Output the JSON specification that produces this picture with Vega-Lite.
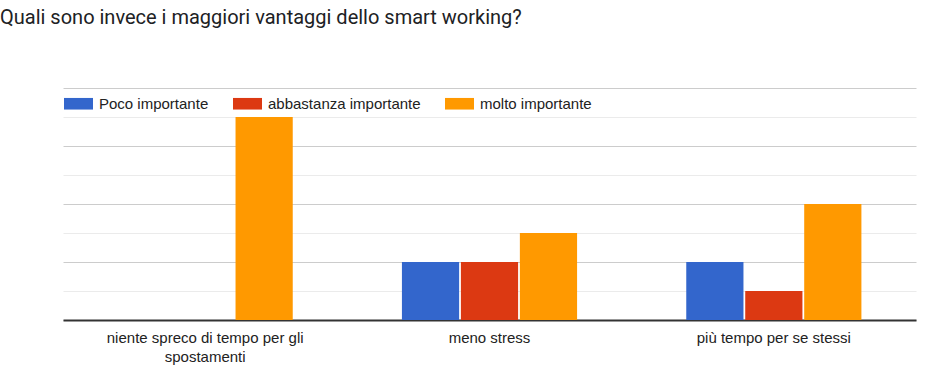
{
  "$schema": "https://vega.github.io/schema/vega-lite/v6.json",
  "autosize": "none",
  "width": 853,
  "height": 232,
  "padding": {"left": 63, "top": 88, "right": 18, "bottom": 68},
  "background": "white",
  "title": {
    "text": "Quali sono invece i maggiori vantaggi dello smart working?",
    "anchor": "start",
    "frame": "group",
    "dx": -63,
    "offset": 44,
    "baseline": "alphabetic",
    "font": "Roboto",
    "fontSize": 20,
    "fontWeight": "normal",
    "color": "#202124"
  },
  "data": {
    "values": [
      {"categoria": "niente spreco di tempo per gli spostamenti", "livello": "Poco importante", "conteggio": 0},
      {"categoria": "niente spreco di tempo per gli spostamenti", "livello": "abbastanza importante", "conteggio": 0},
      {"categoria": "niente spreco di tempo per gli spostamenti", "livello": "molto importante", "conteggio": 7},
      {"categoria": "meno stress", "livello": "Poco importante", "conteggio": 2},
      {"categoria": "meno stress", "livello": "abbastanza importante", "conteggio": 2},
      {"categoria": "meno stress", "livello": "molto importante", "conteggio": 3},
      {"categoria": "più tempo per se stessi", "livello": "Poco importante", "conteggio": 2},
      {"categoria": "più tempo per se stessi", "livello": "abbastanza importante", "conteggio": 1},
      {"categoria": "più tempo per se stessi", "livello": "molto importante", "conteggio": 4}
    ]
  },
  "mark": {"type": "bar"},
  "encoding": {
    "x": {
      "field": "categoria",
      "type": "nominal",
      "sort": null,
      "scale": {"paddingInner": 0.384, "paddingOuter": 0.192},
      "axis": {
        "title": null,
        "labelAngle": 0,
        "labelFont": "Liberation Sans",
        "labelFontSize": 15,
        "labelColor": "#222222",
        "labelPadding": 10,
        "labelLineHeight": 19,
        "labelLimit": 300,
        "ticks": false,
        "domainColor": "#333333",
        "domainWidth": 2,
        "labelExpr": "datum.value == 'niente spreco di tempo per gli spostamenti' ? ['niente spreco di tempo per gli', 'spostamenti'] : datum.value"
      }
    },
    "xOffset": {
      "field": "livello",
      "type": "nominal",
      "sort": ["Poco importante", "abbastanza importante", "molto importante"],
      "scale": {"paddingInner": 0.03}
    },
    "y": {
      "field": "conteggio",
      "type": "quantitative",
      "scale": {"domain": [0, 8], "nice": false},
      "axis": {
        "title": null,
        "labels": false,
        "ticks": false,
        "domain": false,
        "values": [0, 1, 2, 3, 4, 5, 6, 7, 8],
        "gridColor": {"condition": {"test": "datum.value % 2 == 1", "value": "#ebebeb"}, "value": "#cccccc"},
        "gridWidth": 1
      }
    },
    "color": {
      "field": "livello",
      "type": "nominal",
      "sort": ["Poco importante", "abbastanza importante", "molto importante"],
      "scale": {
        "domain": ["Poco importante", "abbastanza importante", "molto importante"],
        "range": ["#3366cc", "#dc3912", "#ff9900"]
      },
      "legend": {
        "title": null,
        "orient": "none",
        "legendX": 1,
        "legendY": 1,
        "direction": "horizontal",
        "symbolType": "M-1,-0.4H1V0.4H-1Z",
        "symbolSize": 841,
        "symbolStrokeWidth": 0,
        "symbolOpacity": 1,
        "labelFont": "Liberation Sans",
        "labelFontSize": 15,
        "labelColor": "#222222",
        "labelOffset": 6,
        "columnPadding": 24,
        "labelLimit": 300
      }
    }
  },
  "config": {
    "view": {"stroke": null},
    "axis": {"gridOpacity": 1}
  }
}
